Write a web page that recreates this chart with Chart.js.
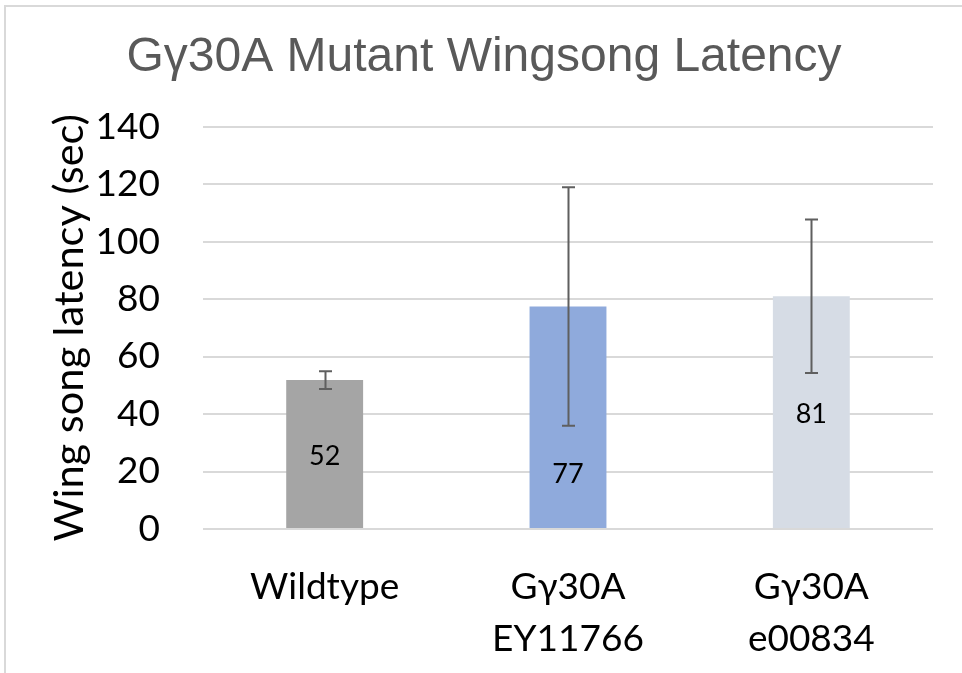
<!DOCTYPE html>
<html>
<head>
<meta charset="utf-8">
<script src="https://cdn.jsdelivr.net/npm/chart.js@4.4.1/dist/chart.umd.min.js"></script>
<style>
  html, body { margin: 0; padding: 0; background: #ffffff; }
  #wrap { position: relative; width: 962px; height: 673px; }
  canvas { display: block; }
</style>
</head>
<body>
<div id="wrap"><canvas id="c" width="962" height="673"></canvas></div>
<script>
// ---- data ----
const categories = ["Wildtype", ["Gγ30A", "EY11766"], ["Gγ30A", "e00834"]];
const latencyValues = [51.8, 77.4, 81.0];
const errorValues = [3.1, 41.5, 26.7];
const yTickValues = [0, 20, 40, 60, 80, 100, 120, 140];
const barColors = ["#a5a5a5", "#8faadc", "#d6dce5"];

const bodyFont = "Lato, 'Open Sans', sans-serif";

const frame = {
  id: "frame",
  beforeDraw(chart) {
    const ctx = chart.ctx;
    ctx.save();
    ctx.fillStyle = "#ffffff";
    ctx.fillRect(0, 0, chart.width, chart.height);
    ctx.strokeStyle = "#d9d9d9";
    ctx.lineWidth = 2;
    ctx.beginPath();
    ctx.moveTo(5, chart.height);
    ctx.lineTo(5, 6);
    ctx.lineTo(chart.width, 6);
    ctx.stroke();
    ctx.restore();
  }
};

const errorBars = {
  id: "errorBars",
  afterDatasetsDraw(chart, args, opts) {
    const ctx = chart.ctx;
    const y = chart.scales.y;
    const meta = chart.getDatasetMeta(0);
    ctx.save();
    ctx.strokeStyle = opts.color;
    ctx.lineWidth = opts.width;
    meta.data.forEach((bar, i) => {
      const v = latencyValues[i], e = errorValues[i];
      const top = y.getPixelForValue(v + e);
      const bot = y.getPixelForValue(v - e);
      const x = Math.round(bar.x) + 0.5;
      ctx.beginPath();
      ctx.moveTo(x, top); ctx.lineTo(x, bot);
      ctx.moveTo(x - opts.cap / 2, top); ctx.lineTo(x + opts.cap / 2, top);
      ctx.moveTo(x - opts.cap / 2, bot); ctx.lineTo(x + opts.cap / 2, bot);
      ctx.stroke();
    });
    ctx.restore();
  }
};

const valueLabels = {
  id: "valueLabels",
  afterDatasetsDraw(chart, args, opts) {
    const ctx = chart.ctx;
    const meta = chart.getDatasetMeta(0);
    ctx.save();
    ctx.fillStyle = opts.color;
    ctx.font = opts.font;
    ctx.textAlign = "center";
    ctx.textBaseline = "middle";
    meta.data.forEach((bar, i) => {
      const f = opts.fractions[i];
      const yy = bar.base - (bar.base - bar.y) * f;
      ctx.fillText(String(Math.round(latencyValues[i])), bar.x, yy + 2);
    });
    ctx.restore();
  }
};

new Chart(document.getElementById("c"), {
  type: "bar",
  data: {
    labels: categories,
    datasets: [{
      data: latencyValues,
      backgroundColor: barColors,
      borderWidth: 0,
      barPercentage: 0.316,
      categoryPercentage: 1.0
    }]
  },
  plugins: [frame, errorBars, valueLabels],
  options: {
    responsive: false,
    animation: false,
    events: [],
    layout: { padding: { left: 35, right: 29, top: 0, bottom: 0 } },
    plugins: {
      legend: { display: false },
      tooltip: { enabled: false },
      title: {
        display: true,
        text: "Gγ30A Mutant Wingsong Latency",
        color: "#595959",
        font: { family: "'Liberation Sans', Arial, sans-serif", size: 48, weight: "normal", lineHeight: 1.2 },
        padding: { top: 29, bottom: 40 }
      },
      errorBars: { color: "#5f5f5f", width: 2, cap: 13 },
      valueLabels: { color: "#000000", font: "27px " + bodyFont, fractions: [0.5, 0.25, 0.5] }
    },
    scales: {
      x: {
        grid: { display: false },
        border: { display: false },
        ticks: {
          color: "#000000",
          font: { family: bodyFont, size: 37, lineHeight: 1.4 },
          padding: 24,
          maxRotation: 0
        },
        afterFit(scale) { scale.height = 144; }
      },
      y: {
        min: 0,
        max: 140,
        afterBuildTicks(scale) { scale.ticks = yTickValues.map(v => ({ value: v })); },
        grid: { color: "#d9d9d9", lineWidth: 2, drawTicks: false },
        border: { display: false },
        ticks: {
          color: "#000000",
          font: { family: bodyFont, size: 37 },
          padding: 43
        },
        title: {
          display: true,
          text: "Wing song latency (sec)",
          color: "#000000",
          font: { family: bodyFont, size: 41.5, lineHeight: 1.2 },
          padding: { top: 10, bottom: 0 }
        },
        afterFit(scale) { scale.width = 168; }
      }
    }
  }
});
</script>
</body>
</html>
